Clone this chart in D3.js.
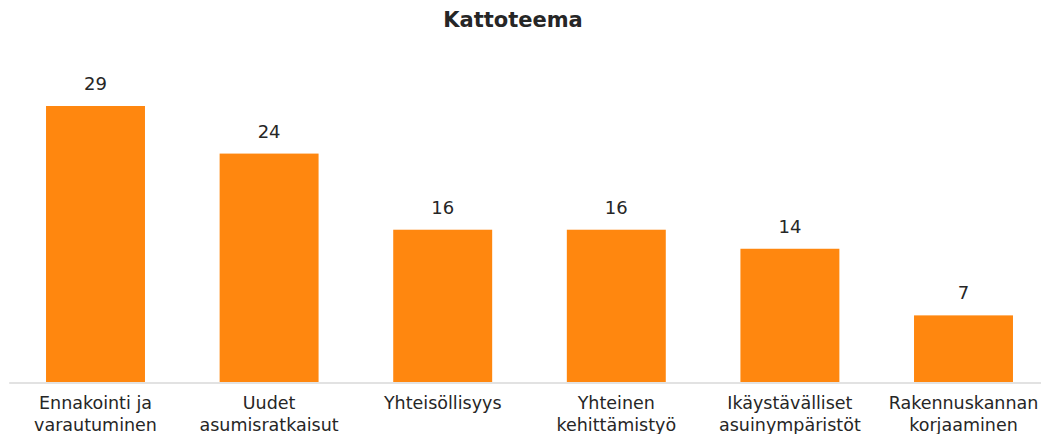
<!DOCTYPE html>
<html>
<head>
<meta charset="utf-8">
<script src="https://cdn.jsdelivr.net/npm/d3@7"></script>
<style>
  body { margin: 0; background: #fff; }
  text { font-family: "DejaVu Sans", sans-serif; fill: #262626; }
</style>
</head>
<body>
<svg id="canvas"></svg>
<script>
let categories = [
  ["Ennakointi ja", "varautuminen"],
  ["Uudet", "asumisratkaisut"],
  ["Yhteisöllisyys"],
  ["Yhteinen", "kehittämistyö"],
  ["Ikäystävälliset", "asuinympäristöt"],
  ["Rakennuskannan", "korjaaminen"]
];
let values = [29, 24, 16, 16, 14, 7];
let title = "Kattoteema";

let width = 1041;
let height = 434;
let baseY = 382;

let canvas = d3.select("#canvas")
  .attr("width", width)
  .attr("height", height);

let xScale = d3.scaleBand()
  .domain(d3.range(values.length))
  .range([8.7, 1050.3])
  .paddingInner(0.43)
  .paddingOuter(0.215);

let yScale = d3.scaleLinear()
  .domain([0, 29])
  .range([baseY, 106]);

// title
canvas.append("text")
  .attr("x", 513)
  .attr("y", 27)
  .attr("text-anchor", "middle")
  .style("font-size", "21px")
  .style("font-weight", "bold")
  .text(title);

// bars
canvas.selectAll("rect.bar")
  .data(values)
  .enter()
  .append("rect")
  .attr("class", "bar")
  .attr("x", (d, i) => xScale(i))
  .attr("y", d => yScale(d))
  .attr("width", xScale.bandwidth())
  .attr("height", d => baseY - yScale(d))
  .attr("fill", "#FF870F");

// axis line
let xAxis = d3.axisBottom(xScale).tickSize(0).tickFormat("");
let axisG = canvas.append("g")
  .attr("transform", "translate(0," + (baseY + 0.5) + ")")
  .call(xAxis);
axisG.select(".domain").attr("stroke", "#d9d9d9").attr("stroke-width", 1.5);

// value labels
canvas.selectAll("text.value")
  .data(values)
  .enter()
  .append("text")
  .attr("class", "value")
  .attr("x", (d, i) => xScale(i) + xScale.bandwidth() / 2)
  .attr("y", d => yScale(d) - 16)
  .attr("text-anchor", "middle")
  .style("font-size", "18px")
  .text(d => d);

// category labels
let labels = canvas.selectAll("text.cat")
  .data(categories)
  .enter()
  .append("text")
  .attr("class", "cat")
  .attr("text-anchor", "middle")
  .style("font-size", "17.5px");

labels.selectAll("tspan")
  .data((d, i) => d.map(s => ({ s: s, i: i })))
  .enter()
  .append("tspan")
  .attr("x", d => xScale(d.i) + xScale.bandwidth() / 2)
  .attr("y", (d, j) => 409 + j * 22)
  .text(d => d.s);
</script>
</body>
</html>
